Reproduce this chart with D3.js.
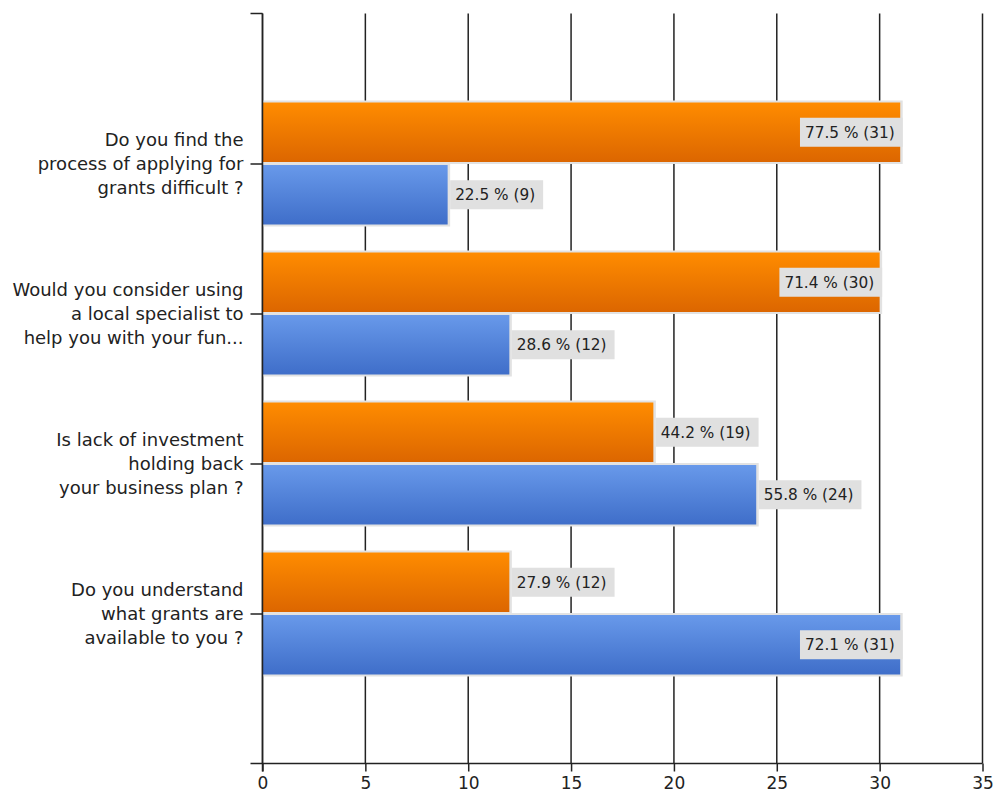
<!DOCTYPE html>
<html>
<head>
<meta charset="utf-8">
<script src="https://cdn.jsdelivr.net/npm/d3@7"></script>
<style>
  html, body { margin: 0; padding: 0; background: #fff; }
  svg { display: block; font-family: "DejaVu Sans", sans-serif; }
</style>
</head>
<body>
<svg id="chart" width="997" height="794"></svg>
<script>
// Survey questions (each drawn on three lines) and answer counts
const categories = [
  "Do you find the|process of applying for|grants difficult ?",
  "Would you consider using|a local specialist to|help you with your fun...",
  "Is lack of investment|holding back|your business plan ?",
  "Do you understand|what grants are|available to you ?"
];
const yesCounts = [31, 30, 19, 12];
const yesPercents = [77.5, 71.4, 44.2, 27.9];
const noCounts = [9, 12, 24, 31];
const noPercents = [22.5, 28.6, 55.8, 72.1];
const xTicks = [0, 5, 10, 15, 20, 25, 30, 35];

const svg = d3.select("#chart");
const plotLeft = 262.5, plotRight = 982.5, plotTop = 13.5, plotBottom = 763.5;

const x = d3.scaleLinear().domain([0, 35]).range([plotLeft, plotRight]);
const y = d3.scalePoint().domain(categories).range([plotTop, plotBottom]).padding(1);

// gradients for the two series
const defs = svg.append("defs");
function grad(id, c1, c2) {
  const g = defs.append("linearGradient").attr("id", id)
    .attr("x1", 0).attr("y1", 0).attr("x2", 0).attr("y2", 1);
  g.append("stop").attr("offset", "0%").attr("stop-color", c1);
  g.append("stop").attr("offset", "100%").attr("stop-color", c2);
}
grad("gOrange", "#ff8c00", "#dc6600");
grad("gBlue", "#6899ea", "#3f6ec9");

// vertical grid lines
svg.append("g").selectAll("line").data(xTicks).join("line")
  .attr("x1", d => x(d)).attr("x2", d => x(d))
  .attr("y1", plotTop).attr("y2", plotBottom)
  .attr("stroke", "#222").attr("stroke-width", 1.5);

// bars
const series = [
  { counts: yesCounts, pcts: yesPercents, fill: "url(#gOrange)", side: -1 },
  { counts: noCounts, pcts: noPercents, fill: "url(#gBlue)", side: 1 }
];
const barH = 59.5;
const barsG = svg.append("g");
const labelsG = svg.append("g");

series.forEach(s => {
  categories.forEach((c, i) => {
    const cy = y(c);
    const v = s.counts[i];
    const end = x(v);
    const y0 = s.side < 0 ? cy - barH - 1.5 : cy + 1.5;
    // light frame around the bar
    barsG.append("rect")
      .attr("x", plotLeft).attr("y", y0 - 2)
      .attr("width", end - plotLeft + 2.5).attr("height", barH + 4)
      .attr("fill", "#e2e2e2");
    barsG.append("rect")
      .attr("x", plotLeft).attr("y", y0)
      .attr("width", end - plotLeft).attr("height", barH)
      .attr("fill", s.fill);

    // value label
    const lg = labelsG.append("g");
    const box = lg.append("rect").attr("fill", "#e0e0e0");
    const t = lg.append("text")
      .attr("font-size", 15.3).attr("fill", "#222")
      .text(`${s.pcts[i]} % (${v})`);
    const tw = t.node().getComputedTextLength();
    const bw = tw + 13, bh = 29;
    const bcy = y0 + barH / 2;
    let bx = end + 2.5;
    if (bx + bw > plotRight) bx = end + 2.5 - bw;
    box.attr("x", bx).attr("y", bcy - bh / 2).attr("width", bw).attr("height", bh);
    t.attr("x", bx + 5).attr("y", bcy + 5.5);
  });
});

// left axis
const yAxis = d3.axisLeft(y).tickSize(12).tickFormat("");
const yg = svg.append("g").attr("transform", `translate(${plotLeft},0)`).call(yAxis);
yg.select(".domain").remove();
yg.selectAll(".tick line").attr("stroke", "#222").attr("stroke-width", 1.5);
svg.append("line").attr("x1", plotLeft).attr("x2", plotLeft).attr("y1", plotTop).attr("y2", plotBottom + 8)
  .attr("stroke", "#222").attr("stroke-width", 1.5);
svg.append("line").attr("x1", plotLeft - 12).attr("x2", plotLeft).attr("y1", plotTop).attr("y2", plotTop)
  .attr("stroke", "#222").attr("stroke-width", 1.5);

// category labels, three lines each, right aligned
categories.forEach(c => {
  const lines = c.split("|");
  const t = svg.append("text")
    .attr("text-anchor", "end").attr("font-size", 18).attr("fill", "#222");
  lines.forEach((ln, k) => {
    t.append("tspan").attr("x", 243.5)
      .attr("y", y(c) + 6 + (k - 1) * 24).text(ln);
  });
});

// bottom axis
const xAxis = d3.axisBottom(x).tickValues(xTicks).tickSize(8).tickSizeOuter(0).tickFormat(d3.format("d"));
const xg = svg.append("g").attr("transform", `translate(0,${plotBottom})`).call(xAxis);
xg.select(".domain").remove();
xg.selectAll(".tick line").attr("stroke", "#222").attr("stroke-width", 1.5);
xg.selectAll(".tick text").attr("font-size", 17).attr("fill", "#222")
  .attr("font-family", "DejaVu Sans, sans-serif").attr("dy", null).attr("y", 25.5);
svg.append("line").attr("x1", plotLeft - 12).attr("x2", plotRight).attr("y1", plotBottom).attr("y2", plotBottom)
  .attr("stroke", "#222").attr("stroke-width", 1.5);
</script>
</body>
</html>
